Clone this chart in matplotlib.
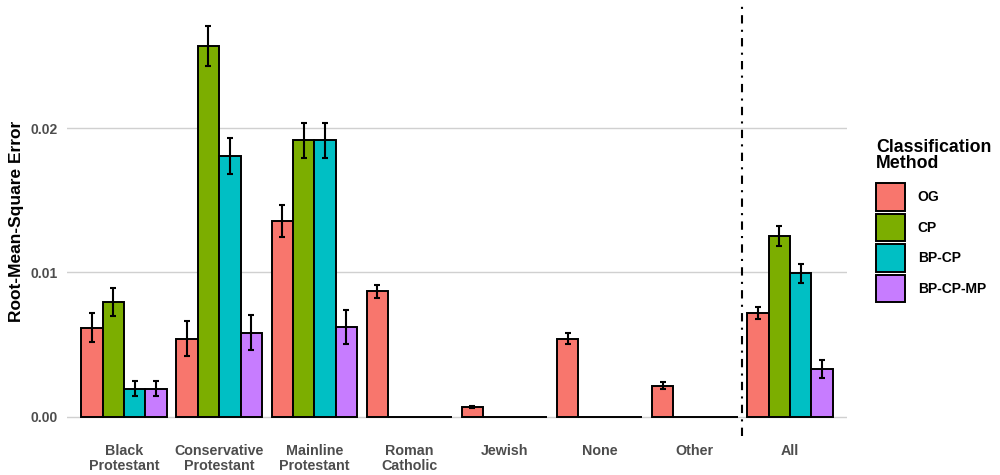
import numpy as np
import matplotlib
matplotlib.use("Agg")
import matplotlib.pyplot as plt
from matplotlib.patches import Patch

plt.rcParams["font.family"] = ["Liberation Sans", "DejaVu Sans"]

categories = ["Black\nProtestant", "Conservative\nProtestant", "Mainline\nProtestant",
              "Roman\nCatholic", "Jewish", "None", "Other", "All"]
methods = ["OG", "CP", "BP-CP", "BP-CP-MP"]
colors = ["#F8766D", "#7CAE00", "#00BFC4", "#C77CFF"]

rmse_og = [0.00615, 0.0054, 0.01356, 0.00869, 0.00067, 0.0054, 0.00213, 0.00719]
rmse_cp = [0.00797, 0.0257, 0.01915, 0.0, 0.0, 0.0, 0.0, 0.0125]
rmse_bpcp = [0.00194, 0.01805, 0.01915, 0.0, 0.0, 0.0, 0.0, 0.00994]
rmse_bpcpmp = [0.00194, 0.00582, 0.0062, 0.0, 0.0, 0.0, 0.0, 0.0033]

err_og = [0.001, 0.0012, 0.0011, 0.00046, 0.00005, 0.00038, 0.00024, 0.0004]
err_cp = [0.00097, 0.0014, 0.0012, 0.0, 0.0, 0.0, 0.0, 0.0007]
err_bpcp = [0.00055, 0.00124, 0.0012, 0.0, 0.0, 0.0, 0.0, 0.00065]
err_bpcpmp = [0.00055, 0.00122, 0.00118, 0.0, 0.0, 0.0, 0.0, 0.00063]

values = [rmse_og, rmse_cp, rmse_bpcp, rmse_bpcpmp]
errors = [err_og, err_cp, err_bpcp, err_bpcpmp]

fig = plt.figure(figsize=(10, 4.75), dpi=100)
ax = fig.add_axes([0.067, 0.082, 0.78, 0.905])

x = np.arange(1, len(categories) + 1)
group_w = 0.9
bw = group_w / len(methods)

for i, (vals, errs, col) in enumerate(zip(values, errors, colors)):
    pos = x - group_w / 2 + bw * (i + 0.5)
    ax.bar(pos, vals, width=bw, color=col, edgecolor="black", linewidth=1.4, zorder=3)
    v = np.array(vals)
    e = np.array(errs)
    mask = e > 0
    ax.errorbar(pos[mask], v[mask], yerr=e[mask], fmt="none", ecolor="black",
                elinewidth=1.5, capsize=2.0, capthick=1.5, zorder=4)

# separator between the individual groups and the pooled "All" group
ax.axvline(7.5, color="black", linewidth=1.5, linestyle=(0, (4, 3, 1, 3)), zorder=5)

ymax = 0.0271
pad = ymax * 0.05
ax.set_ylim(-pad, ymax + pad)
ax.set_xlim(0.4, 8.6)
ax.set_yticks([0.0, 0.01, 0.02])
ax.set_yticklabels(["0.00", "0.01", "0.02"])
ax.set_xticks(x)
ax.set_xticklabels(categories)

ax.grid(axis="y", color="#D0D0D0", linewidth=1.0, zorder=0)
ax.grid(axis="x", visible=False)
for s in ax.spines.values():
    s.set_visible(False)
ax.tick_params(axis="both", length=0, colors="#4D4D4D")
ax.tick_params(axis="y", pad=7, labelsize=10)
ax.tick_params(axis="x", pad=6, labelsize=10.3)
for lab in ax.get_xticklabels() + ax.get_yticklabels():
    lab.set_fontweight("bold")
    lab.set_linespacing(1.05)
ax.set_ylabel("Root-Mean-Square Error", fontsize=12.5, fontweight="bold")
ax.yaxis.set_label_coords(-0.055, 0.5)

fig.text(0.876, 1 - 139 / 475, "Classification\nMethod", ha="left", va="top",
         fontsize=12.8, fontweight="bold", linespacing=0.95)

handles = [Patch(facecolor=c, edgecolor="black", linewidth=1.4) for c in colors]
leg = fig.legend(handles, methods, loc="upper left", bbox_to_anchor=(0.876, 1 - 183 / 475),
                 frameon=False, prop={"weight": "bold", "size": 10},
                 handlelength=2.1, handleheight=2.7, labelspacing=0.2,
                 handletextpad=0.9, borderpad=0, borderaxespad=0)

fig.savefig("out.png", dpi=100, facecolor="white")
